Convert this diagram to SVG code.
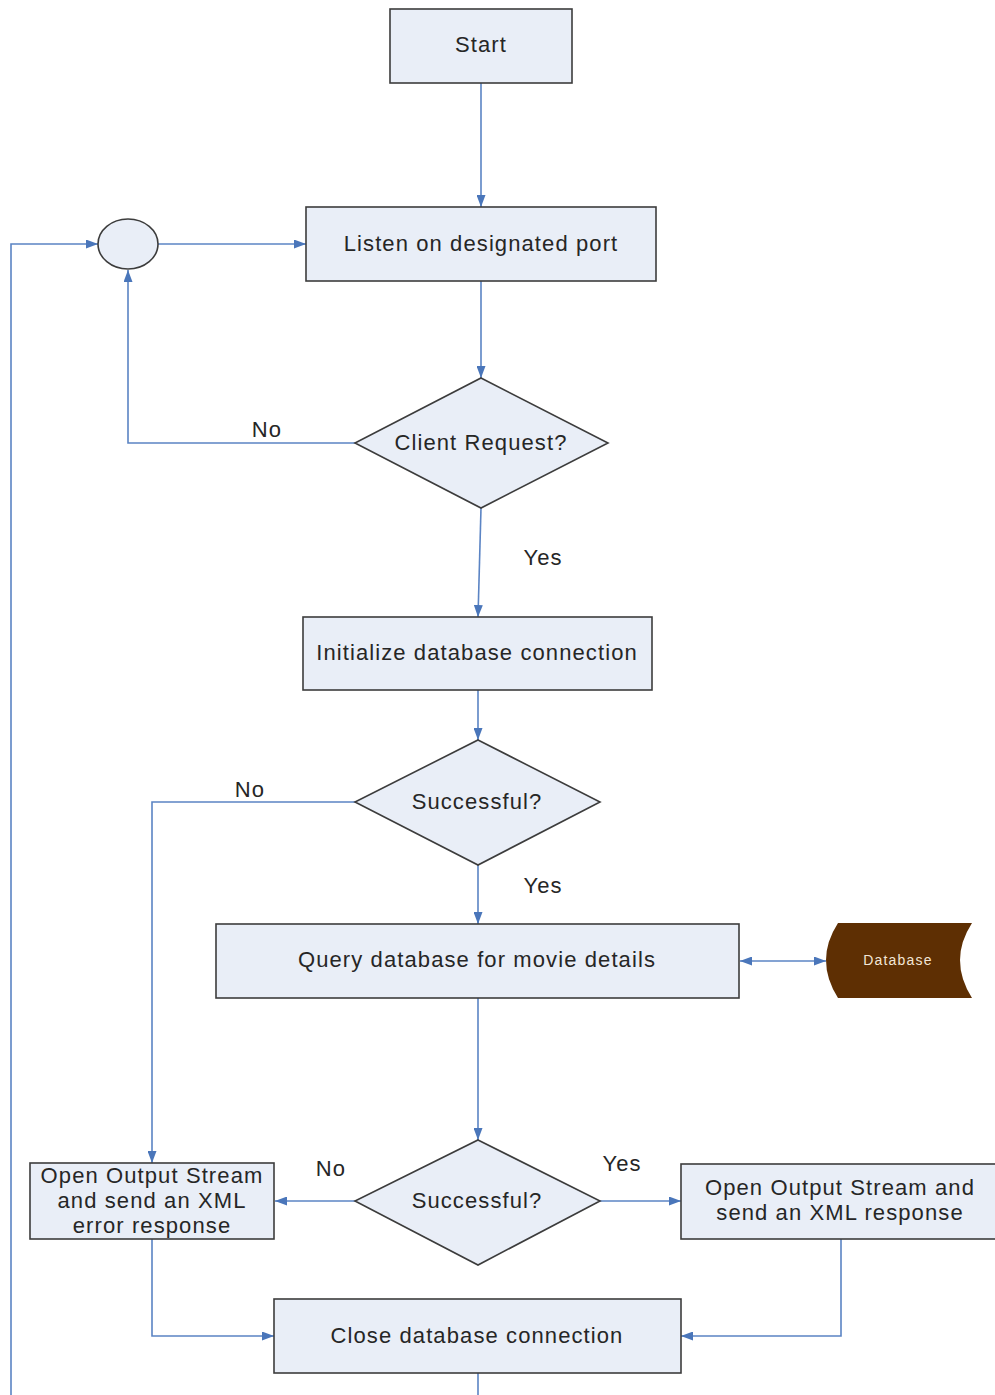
<svg xmlns="http://www.w3.org/2000/svg" width="995" height="1395" viewBox="0 0 995 1395">
<defs>
<style>
.box{fill:#e9eef7;stroke:#3c3c3c;stroke-width:1.6}
.t{font-family:"Liberation Sans",Arial,sans-serif;font-size:22px;letter-spacing:1.1px;fill:#262626;text-anchor:middle;dominant-baseline:central}
.c{fill:none;stroke:#5b84c4;stroke-width:1.6}
</style>
<marker id="ah" viewBox="0 0 12 9" refX="12" refY="4.5" markerWidth="12" markerHeight="9" markerUnits="userSpaceOnUse" orient="auto-start-reverse">
<path d="M0,0 L12,4.5 L0,9 Z" fill="#4a76ba"/>
</marker>
</defs>
<rect width="995" height="1395" fill="#ffffff"/>
<g id="connectors">
<path class="c" d="M481,83 V207" marker-end="url(#ah)"/>
<path class="c" d="M158,244 H306" marker-end="url(#ah)"/>
<path class="c" d="M11,1395 V244 H98" marker-end="url(#ah)"/>
<path class="c" d="M481,281 V378" marker-end="url(#ah)"/>
<path class="c" d="M355,443 H128 V270" marker-end="url(#ah)"/>
<path class="c" d="M481,508 L478,617" marker-end="url(#ah)"/>
<path class="c" d="M478,690 V740" marker-end="url(#ah)"/>
<path class="c" d="M355,802 H152 V1163" marker-end="url(#ah)"/>
<path class="c" d="M478,865 V924" marker-end="url(#ah)"/>
<path class="c" d="M740,961 H826" marker-start="url(#ah)" marker-end="url(#ah)"/>
<path class="c" d="M478,998 V1140" marker-end="url(#ah)"/>
<path class="c" d="M355,1201 H275" marker-end="url(#ah)"/>
<path class="c" d="M600,1201 H681" marker-end="url(#ah)"/>
<path class="c" d="M152,1239 V1336 H274" marker-end="url(#ah)"/>
<path class="c" d="M841,1239 V1336 H681" marker-end="url(#ah)"/>
<path class="c" d="M478,1373 V1395"/>
<text class="t" x="267" y="429">No</text>
<text class="t" x="543" y="557">Yes</text>
<text class="t" x="250" y="789">No</text>
<text class="t" x="543" y="885">Yes</text>
<text class="t" x="331" y="1168">No</text>
<text class="t" x="622" y="1163">Yes</text>
</g>
<g id="start">
<rect class="box" x="390" y="9" width="182" height="74"/>
<text class="t" x="481" y="44">Start</text>
</g>
<g id="junction">
<ellipse class="box" cx="128" cy="244" rx="30" ry="25"/>
</g>
<g id="listen">
<rect class="box" x="306" y="207" width="350" height="74"/>
<text class="t" x="481" y="243">Listen on designated port</text>
</g>
<g id="client-request">
<polygon class="box" points="481,378 608,443 481,508 355,443"/>
<text class="t" x="481" y="442">Client Request?</text>
</g>
<g id="init-db">
<rect class="box" x="303" y="617" width="349" height="73"/>
<text class="t" x="477" y="652">Initialize database connection</text>
</g>
<g id="successful-1">
<polygon class="box" points="478,740 600,802 478,865 355,802"/>
<text class="t" x="477" y="801">Successful?</text>
</g>
<g id="query">
<rect class="box" x="216" y="924" width="523" height="74"/>
<text class="t" x="477" y="959">Query database for movie details</text>
</g>
<g id="database">
<path d="M838,923 L972,923 Q948,960 972,998 L838,998 Q814,960 838,923 Z" fill="#5e2f03"/>
<text class="t" x="898" y="960" style="font-size:14px;letter-spacing:1.2px;fill:#f3e6d6">Database</text>
</g>
<g id="successful-2">
<polygon class="box" points="478,1140 600,1201 478,1265 355,1201"/>
<text class="t" x="477" y="1200">Successful?</text>
</g>
<g id="error-response">
<rect class="box" x="30" y="1163" width="244" height="76"/>
<text class="t" x="152" y="1175">Open Output Stream</text>
<text class="t" x="152" y="1200">and send an XML</text>
<text class="t" x="152" y="1225">error response</text>
</g>
<g id="xml-response">
<rect class="box" x="681" y="1164" width="330" height="75"/>
<text class="t" x="840" y="1187">Open Output Stream and</text>
<text class="t" x="840" y="1212">send an XML response</text>
</g>
<g id="close-db">
<rect class="box" x="274" y="1299" width="407" height="74"/>
<text class="t" x="477" y="1335">Close database connection</text>
</g>
</svg>
